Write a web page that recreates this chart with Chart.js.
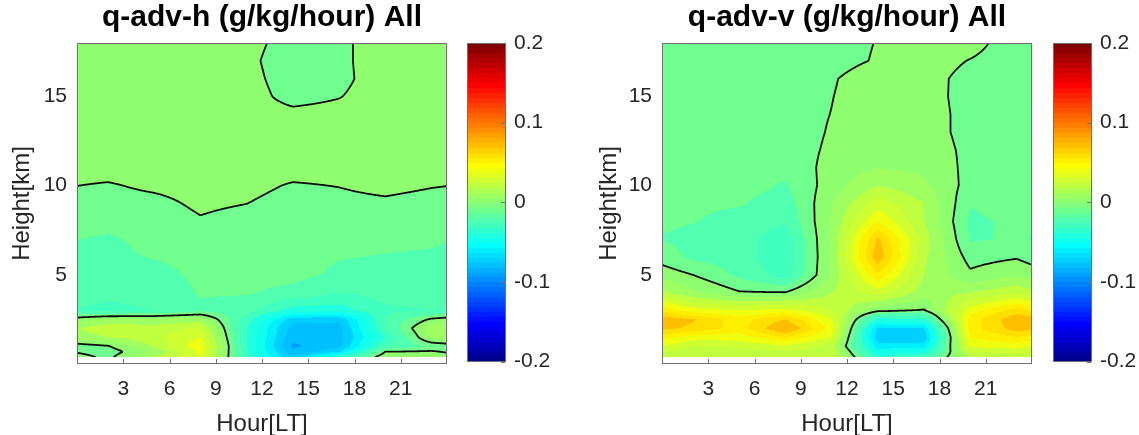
<!DOCTYPE html>
<html>
<head>
<meta charset="utf-8">
<script src="https://cdn.jsdelivr.net/npm/chart.js@4.4.1/dist/chart.umd.min.js"></script>
<style>
html, body { margin: 0; padding: 0; background: #fff; }
#wrap { position: relative; width: 1139px; height: 435px; overflow: hidden; }
.panel { position: absolute; top: 0; height: 435px; }
</style>
</head>
<body>
<div id="wrap">
	<div class="panel" style="left:0;width:575px"><canvas id="h-chart" width="575" height="435"></canvas></div>
	<div class="panel" style="left:575px;width:564px"><canvas id="v-chart" width="564" height="435"></canvas></div>
</div>
<script>
Chart.defaults.font.family = "'Liberation Sans', Arial, sans-serif";
Chart.defaults.color = '#262626';

// grid of the data: local hour (3-hourly, wraps round the day) and height in km
var hours = [2, 5, 8, 11, 14, 17, 20, 23];
var heights = [0.4, 0.7, 1, 1.5, 2, 2.5, 3, 4, 5, 6, 7, 8, 9, 10, 11, 12, 13, 14, 15, 16, 17, 18];

var xTicks = [3, 6, 9, 12, 15, 18, 21];
var yTicks = [5, 10, 15];
var cbTicks = [-0.2, -0.1, 0, 0.1, 0.2];
var levelStep = 0.01;
var cMin = -0.2, cMax = 0.2;

// q-adv-h, one row per height, one value per hour
var qAdvH = [
	[-0.003, 0.02, 0.04, -0.026, -0.07, -0.03, 0.008, 0.008],
	[-0.006, 0.012, 0.044, -0.028, -0.078, -0.062, 0.0, 0.001],
	[-0.001, 0.022, 0.048, -0.03, -0.082, -0.072, -0.02, -0.008],
	[0.02, 0.027, 0.04, -0.03, -0.077, -0.074, -0.03, 0.012],
	[0.028, 0.025, 0.032, -0.03, -0.075, -0.074, -0.02, 0.015],
	[0.012, 0.012, 0.015, -0.025, -0.066, -0.068, -0.02, 0.002],
	[-0.022, -0.02, -0.012, -0.016, -0.035, -0.035, -0.022, -0.02],
	[-0.018, -0.017, -0.009, -0.009, -0.013, -0.02, -0.016, -0.015],
	[-0.013, -0.013, -0.008, -0.0075, -0.007, -0.012, -0.013, -0.012],
	[-0.012, -0.0095, -0.007, -0.006, -0.006, -0.0095, -0.0105, -0.011],
	[-0.0115, -0.007, -0.004, -0.005, -0.006, -0.007, -0.008, -0.009],
	[-0.006, -0.006, -0.001, -0.004, -0.006, -0.006, -0.006, -0.006],
	[-0.004, -0.003, 0.002, 0.0001, -0.004, -0.003, -0.002, -0.004],
	[-0.001, 0.002, 0.004, 0.003, -0.001, 0.0003, 0.003, 0.0006],
	[0.004, 0.004, 0.005, 0.005, 0.004, 0.004, 0.004, 0.004],
	[0.005, 0.005, 0.006, 0.006, 0.005, 0.005, 0.005, 0.005],
	[0.005, 0.005, 0.006, 0.006, 0.005, 0.005, 0.005, 0.005],
	[0.005, 0.005, 0.005, 0.005, 0.003, 0.004, 0.005, 0.005],
	[0.005, 0.005, 0.005, 0.005, -0.004, -0.0005, 0.006, 0.005],
	[0.005, 0.005, 0.005, 0.004, -0.006, -0.003, 0.006, 0.005],
	[0.005, 0.005, 0.005, 0.003, -0.007, -0.003, 0.007, 0.006],
	[0.005, 0.005, 0.005, 0.004, -0.005, -0.003, 0.007, 0.006]
];

// q-adv-v
var qAdvV = [
	[0.022, 0.02, 0.02, 0.03, -0.03, -0.02, 0.02, 0.025],
	[0.025, 0.025, 0.028, 0.03, -0.045, -0.04, 0.03, 0.035],
	[0.03, 0.032, 0.038, 0.024, -0.055, -0.055, 0.042, 0.045],
	[0.045, 0.045, 0.06, 0.039, -0.068, -0.068, 0.05, 0.06],
	[0.068, 0.055, 0.082, 0.046, -0.062, -0.06, 0.055, 0.075],
	[0.071, 0.055, 0.07, 0.04, -0.035, -0.03, 0.055, 0.078],
	[0.045, 0.04, 0.045, 0.03, 0.003, -0.001, 0.045, 0.065],
	[0.012, 0.001, 0.0005, 0.02, 0.035, 0.015, 0.02, 0.028],
	[0.0, -0.012, -0.025, 0.012, 0.058, 0.02, 0.002, 0.009],
	[-0.012, -0.015, -0.028, 0.012, 0.078, 0.022, -0.004, -0.001],
	[-0.013, -0.016, -0.026, 0.012, 0.072, 0.025, -0.011, -0.009],
	[-0.0095, -0.014, -0.019, 0.011, 0.05, 0.02, -0.012, -0.008],
	[-0.008, -0.009, -0.015, 0.009, 0.035, 0.02, -0.0095, -0.005],
	[-0.006, -0.006, -0.011, 0.005, 0.02, 0.012, -0.004, -0.005],
	[-0.005, -0.005, -0.008, 0.004, 0.0098, 0.008, -0.003, -0.005],
	[-0.005, -0.005, -0.006, 0.002, 0.008, 0.005, -0.0023, -0.005],
	[-0.005, -0.005, -0.006, 0.001, 0.007, 0.004, -0.003, -0.005],
	[-0.005, -0.005, -0.005, 0.0002, 0.006, 0.004, -0.003, -0.005],
	[-0.005, -0.005, -0.005, -0.0003, 0.006, 0.004, -0.0037, -0.005],
	[-0.005, -0.005, -0.005, -0.001, 0.006, 0.004, -0.0035, -0.005],
	[-0.005, -0.005, -0.005, -0.004, 0.001, 0.005, -0.0005, -0.006],
	[-0.005, -0.005, -0.005, -0.004, 0.0004, 0.004, 0.004, -0.006]
];

// matlab style jet colormap
function jetMap(m) {
	var n = Math.ceil(m / 4), u = [], k;
	for (k = 1; k <= n; k++) u.push(k / n);
	for (k = 1; k < n; k++) u.push(1);
	for (k = n; k >= 1; k--) u.push(k / n);
	var g0 = Math.ceil(n / 2) - (m % 4 === 1 ? 1 : 0);
	function at(i) { return (i >= 1 && i <= u.length) ? u[i - 1] : 0; }
	var out = [];
	for (var i = 1; i <= m; i++) {
		out.push([Math.round(255 * at(i - g0 - n)), Math.round(255 * at(i - g0)), Math.round(255 * at(i - g0 + n))]);
	}
	return out;
}
var jet = jetMap(64);

// colour of the band a value falls in (band takes the colour of its lower level)
function bandColor(v) {
	var k = Math.floor(v / levelStep + 1e-9);
	var idx = Math.floor((k * levelStep - cMin) / (cMax - cMin) * 64 + 1e-9);
	if (idx < 0) idx = 0;
	if (idx > 63) idx = 63;
	return jet[idx];
}

function sampleField(grid, hr, km) {
	var n = hours.length, i0, i1, t;
	if (hr < hours[0] || hr >= hours[n - 1]) {
		var a = hr < hours[0] ? hours[n - 1] - 24 : hours[n - 1];
		var b = hr < hours[0] ? hours[0] : hours[0] + 24;
		i0 = n - 1; i1 = 0; t = (hr - a) / (b - a);
	} else {
		i0 = 0;
		while (i0 < n - 2 && hours[i0 + 1] <= hr) i0++;
		i1 = i0 + 1;
		t = (hr - hours[i0]) / (hours[i1] - hours[i0]);
	}
	var m = heights.length, j0 = 0, s;
	if (km <= heights[0]) { s = 0; }
	else if (km >= heights[m - 1]) { j0 = m - 2; s = 1; }
	else {
		while (j0 < m - 2 && heights[j0 + 1] < km) j0++;
		s = (km - heights[j0]) / (heights[j0 + 1] - heights[j0]);
	}
	var lo = (1 - t) * grid[j0][i0] + t * grid[j0][i1];
	var hi = (1 - t) * grid[j0 + 1][i0] + t * grid[j0 + 1][i1];
	return (1 - s) * lo + s * hi;
}

var contourPlugin = {
	id: 'contourFill',
	beforeDatasetsDraw: function(chart, args, opts) {
		var grid = opts.grid;
		var ctx = chart.ctx, area = chart.chartArea;
		var xs = chart.scales.x, ys = chart.scales.y;
		var L = Math.round(area.left), T = Math.round(area.top), R = Math.round(area.right);
		var B = Math.round(ys.getPixelForValue(heights[0]));
		var w = R - L, h = B - T;

		// filled bands
		var off = document.createElement('canvas');
		off.width = w; off.height = h;
		var octx = off.getContext('2d');
		var img = octx.createImageData(w, h);
		for (var py = 0; py < h; py++) {
			var km = ys.getValueForPixel(T + py + 0.5);
			for (var px = 0; px < w; px++) {
				var hr = xs.getValueForPixel(L + px + 0.5);
				var c = bandColor(sampleField(grid, hr, km));
				var p = (py * w + px) * 4;
				img.data[p] = c[0]; img.data[p + 1] = c[1]; img.data[p + 2] = c[2]; img.data[p + 3] = 255;
			}
		}
		octx.putImageData(img, 0, 0);
		ctx.drawImage(off, L, T);

		// zero contour, marching squares on the pixel lattice
		var V = new Float32Array((w + 1) * (h + 1));
		for (var j = 0; j <= h; j++) {
			var kmj = ys.getValueForPixel(T + j);
			for (var i = 0; i <= w; i++) {
				V[j * (w + 1) + i] = sampleField(grid, xs.getValueForPixel(L + i), kmj);
			}
		}
		ctx.save();
		ctx.beginPath();
		ctx.rect(L, T, w, h);
		ctx.clip();
		ctx.beginPath();
		for (j = 0; j < h; j++) {
			for (i = 0; i < w; i++) {
				var a = V[j * (w + 1) + i], b = V[j * (w + 1) + i + 1];
				var d = V[(j + 1) * (w + 1) + i], cc = V[(j + 1) * (w + 1) + i + 1];
				var code = (a > 0 ? 8 : 0) | (b > 0 ? 4 : 0) | (cc > 0 ? 2 : 0) | (d > 0 ? 1 : 0);
				if (code === 0 || code === 15) continue;
				var x = L + i, y = T + j, pts = {};
				if ((a > 0) !== (b > 0)) pts.top = [x + a / (a - b), y];
				if ((b > 0) !== (cc > 0)) pts.right = [x + 1, y + b / (b - cc)];
				if ((d > 0) !== (cc > 0)) pts.bottom = [x + d / (d - cc), y + 1];
				if ((a > 0) !== (d > 0)) pts.left = [x, y + a / (a - d)];
				var list = [];
				if (code === 5 || code === 10) {
					var mid = (a + b + cc + d) / 4;
					if ((mid > 0) === (a > 0)) list = [[pts.top, pts.right], [pts.bottom, pts.left]];
					else list = [[pts.left, pts.top], [pts.right, pts.bottom]];
				} else {
					var q = [];
					['top', 'right', 'bottom', 'left'].forEach(function(e) { if (pts[e]) q.push(pts[e]); });
					list = [q];
				}
				list.forEach(function(sg) {
					ctx.moveTo(sg[0][0], sg[0][1]);
					ctx.lineTo(sg[1][0], sg[1][1]);
				});
			}
		}
		ctx.strokeStyle = '#0d0d0d';
		ctx.lineWidth = 1.8;
		ctx.lineCap = 'round';
		ctx.stroke();
		ctx.restore();
	},
	afterDraw: function(chart, args, opts) {
		var ctx = chart.ctx, area = chart.chartArea;
		var xs = chart.scales.x, cb = chart.scales.cb;
		ctx.save();
		// axes box
		ctx.strokeStyle = '#707070';
		ctx.lineWidth = 1;
		ctx.strokeRect(Math.round(area.left) + 0.5, Math.round(area.top) + 0.5,
			Math.round(area.right - area.left) - 1, Math.round(area.bottom - area.top) - 1);
		// x ticks, pointing in from the bottom edge
		ctx.beginPath();
		xTicks.forEach(function(v) {
			var px = Math.round(xs.getPixelForValue(v)) + 0.5;
			ctx.moveTo(px, Math.round(area.bottom) - 1);
			ctx.lineTo(px, Math.round(area.bottom) - 5);
		});
		ctx.stroke();

		// colour bar, one strip per colormap entry
		var x0 = Math.round(cb.left) + opts.cbGap, bw = 39;
		for (var i = 0; i < 64; i++) {
			var v0 = cMin + i * (cMax - cMin) / 64, v1 = cMin + (i + 1) * (cMax - cMin) / 64;
			var yTop = Math.floor(cb.getPixelForValue(v1)), yBot = Math.ceil(cb.getPixelForValue(v0));
			ctx.fillStyle = 'rgb(' + jet[i].join(',') + ')';
			ctx.fillRect(x0, yTop, bw, yBot - yTop);
		}
		var top = Math.round(cb.getPixelForValue(cMax)), bot = Math.round(cb.getPixelForValue(cMin));
		ctx.strokeRect(x0 + 0.5, top + 0.5, bw - 1, bot - top - 1);
		ctx.beginPath();
		cbTicks.forEach(function(v) {
			var py = Math.round(cb.getPixelForValue(v)) + 0.5;
			ctx.moveTo(x0 + bw - 1, py);
			ctx.lineTo(x0 + bw - 5, py);
		});
		ctx.stroke();
		ctx.restore();
	}
};

function fixTicks(list) {
	return function(scale) { scale.ticks = list.map(function(v) { return { value: v }; }); };
}

// fixed box sizes, and no label overhang padding pushed into the layout
function fixWidth(w) {
	return function(s) { s.width = w; s.paddingTop = 0; s.paddingBottom = 0; };
}

function makeConfig(grid, titleText, yWidth, yTitlePad, cbWidth, cbGap, cbPad) {
	return {
		type: 'scatter',
		data: { datasets: [] },
		options: {
			responsive: false,
			animation: false,
			events: [],
			layout: { padding: 0 },
			plugins: {
				legend: { display: false },
				tooltip: { enabled: false },
				title: {
					display: true, text: titleText, fullSize: false, color: '#000',
					font: { size: 30, weight: 'bold', lineHeight: 1.2 }, padding: { top: 0, bottom: 7 }
				},
				contourFill: { grid: grid, cbGap: cbGap }
			},
			scales: {
				x: {
					type: 'linear', position: 'bottom', min: 0, max: 24,
					afterBuildTicks: fixTicks(xTicks),
					afterFit: function(s) { s.height = 71; s.paddingLeft = 0; s.paddingRight = 0; },
					grid: { display: false, drawTicks: false },
					border: { display: false },
					ticks: { font: { size: 21 }, padding: 13, maxRotation: 0, autoSkip: false, callback: function(v) { return String(v); } },
					title: { display: true, text: 'Hour[LT]', font: { size: 24, lineHeight: 0.9 }, padding: { top: 0, bottom: 0 } }
				},
				y: {
					type: 'linear', position: 'left', min: 0, max: 18,
					afterBuildTicks: fixTicks(yTicks),
					afterFit: fixWidth(yWidth),
					grid: { display: false, drawTicks: false },
					border: { display: false },
					ticks: { font: { size: 21 }, padding: 10, callback: function(v) { return String(v); } },
					title: { display: true, text: 'Height[km]', font: { size: 24, lineHeight: 0.9 }, padding: { top: yTitlePad, bottom: 0 } }
				},
				cb: {
					type: 'linear', axis: 'y', position: 'right', min: -0.203, max: 0.2,
					afterBuildTicks: fixTicks(cbTicks),
					afterFit: fixWidth(cbWidth),
					grid: { display: false, drawTicks: false },
					border: { display: false },
					ticks: { font: { size: 21 }, padding: cbPad, callback: function(v) { return String(v); } }
				}
			}
		},
		plugins: [contourPlugin]
	};
}

var hChart = new Chart(document.getElementById('h-chart').getContext('2d'),
	makeConfig(qAdvH, 'q-adv-h (g/kg/hour) All', 77, 12, 128, 20, 67));
var vChart = new Chart(document.getElementById('v-chart').getContext('2d'),
	makeConfig(qAdvV, 'q-adv-v (g/kg/hour) All', 87, 24, 107, 21, 68));
</script>
</body>
</html>
